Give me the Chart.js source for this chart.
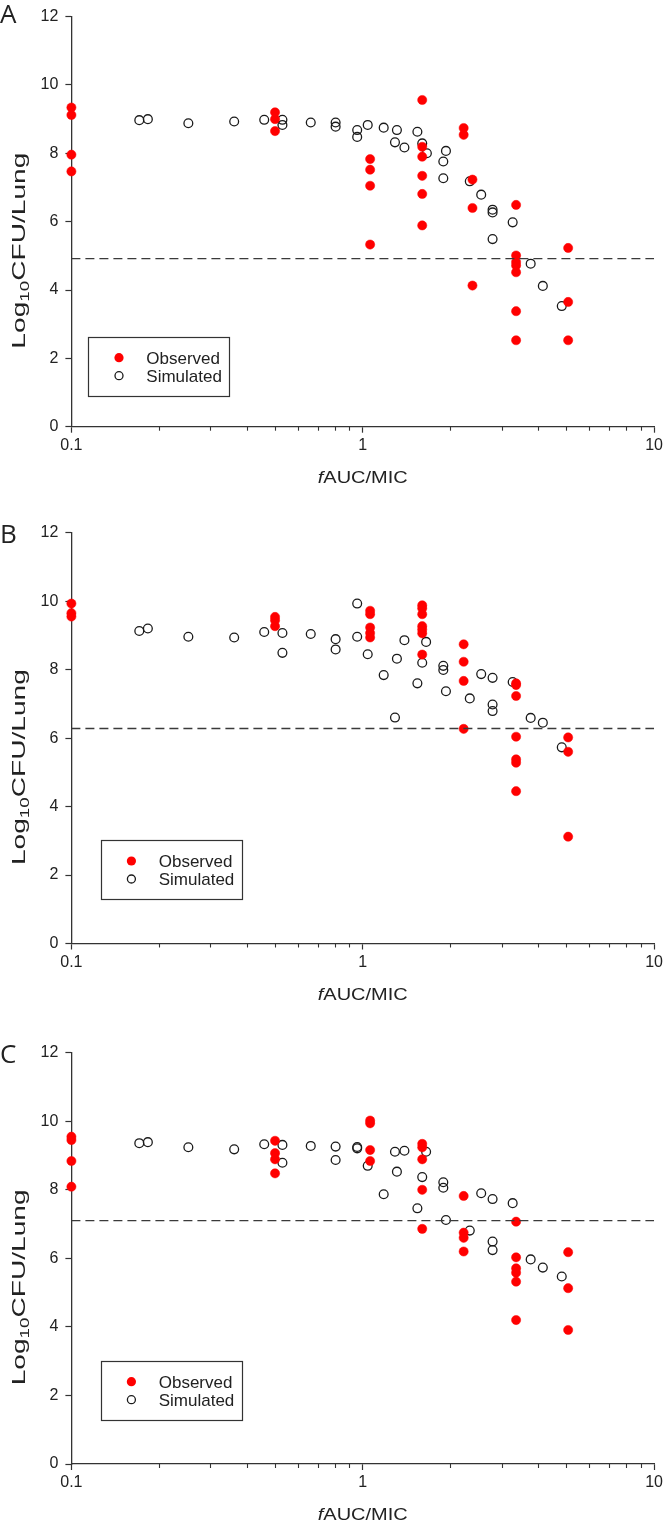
<!DOCTYPE html>
<html>
<head>
<meta charset="utf-8">
<script src="https://cdn.jsdelivr.net/npm/chart.js@4.4.0/dist/chart.umd.min.js"></script>
<style>
  body { margin: 0; background: #fff; }
  #wrap { position: relative; width: 666px; height: 1523px; }
  canvas { position: absolute; left: 0; }
</style>
</head>
<body>
<div id="wrap">
  <canvas id="panelA" width="666" height="500" style="top:0"></canvas>
  <canvas id="panelB" width="666" height="515" style="top:500px"></canvas>
  <canvas id="panelC" width="666" height="508" style="top:1015px"></canvas>
</div>
<script>
// values (x = fAUC/MIC, y = log10 CFU/lung)
const xTickValues = [0.1, 1, 10];
const xMinorDecades = [0.1, 1];
const yTickStep = 2;

// Panel A
const obsAX = [0.1, 0.1, 0.1, 0.1, 0.5, 0.5, 0.5, 1.06, 1.06, 1.06, 1.06, 1.6, 1.6, 1.6, 1.6, 1.6, 1.6, 2.22, 2.22, 2.38, 2.38, 2.38, 3.36, 3.36, 3.36, 3.36, 3.36, 3.36, 3.36, 5.07, 5.07, 5.07];
const obsAY = [9.34, 9.12, 7.96, 7.47, 9.2, 9.0, 8.65, 7.83, 7.52, 7.05, 5.33, 9.56, 8.19, 7.9, 7.34, 6.81, 5.89, 8.74, 8.54, 7.23, 6.4, 4.13, 6.49, 5.01, 4.82, 4.72, 4.52, 3.38, 2.53, 5.23, 3.65, 2.53];
const simAX = [0.171, 0.183, 0.252, 0.362, 0.459, 0.53, 0.53, 0.663, 0.807, 0.807, 0.957, 0.957, 1.04, 1.18, 1.31, 1.29, 1.39, 1.54, 1.6, 1.66, 1.93, 1.89, 1.89, 2.33, 2.55, 2.79, 2.79, 2.79, 3.27, 3.77, 4.15, 4.82];
const simAY = [8.97, 9.0, 8.88, 8.93, 8.98, 8.98, 8.83, 8.9, 8.9, 8.78, 8.68, 8.48, 8.83, 8.75, 8.68, 8.32, 8.17, 8.63, 8.29, 8.0, 8.07, 7.76, 7.27, 7.18, 6.79, 6.35, 6.27, 5.49, 5.98, 4.77, 4.12, 3.53];
const cutoffA = 4.92;

// Panel B
const obsBX = [0.1, 0.1, 0.1, 0.5, 0.5, 0.5, 1.06, 1.06, 1.06, 1.06, 1.06, 1.6, 1.6, 1.6, 1.6, 1.6, 1.6, 1.6, 2.22, 2.22, 2.22, 2.22, 3.36, 3.36, 3.36, 3.36, 3.36, 3.36, 3.36, 5.07, 5.07, 5.07];
const obsBY = [9.93, 9.65, 9.55, 9.54, 9.44, 9.27, 9.72, 9.62, 9.23, 9.07, 8.94, 9.88, 9.79, 9.62, 9.27, 9.17, 9.06, 8.44, 8.74, 8.23, 7.67, 6.27, 7.6, 7.55, 7.23, 6.04, 5.38, 5.28, 4.45, 6.02, 5.6, 3.12];
const simBX = [0.171, 0.183, 0.252, 0.362, 0.459, 0.53, 0.53, 0.663, 0.807, 0.807, 0.957, 0.957, 1.04, 1.18, 1.31, 1.29, 1.39, 1.54, 1.6, 1.65, 1.89, 1.89, 1.93, 2.33, 2.55, 2.79, 2.79, 2.79, 3.27, 3.77, 4.15, 4.82];
const simBY = [9.13, 9.2, 8.96, 8.94, 9.1, 9.07, 8.49, 9.04, 8.89, 8.59, 9.93, 8.96, 8.45, 7.84, 8.32, 6.6, 8.86, 7.6, 8.2, 8.81, 8.11, 7.99, 7.37, 7.16, 7.87, 7.76, 6.98, 6.79, 7.64, 6.59, 6.45, 5.73];
const cutoffB = 6.28;

// Panel C
const obsCX = [0.1, 0.1, 0.1, 0.1, 0.5, 0.5, 0.5, 0.5, 1.06, 1.06, 1.06, 1.06, 1.6, 1.6, 1.6, 1.6, 1.6, 2.22, 2.22, 2.22, 2.22, 3.36, 3.36, 3.36, 3.36, 3.36, 3.36, 5.07, 5.07, 5.07];
const obsCY = [9.55, 9.45, 8.84, 8.09, 9.43, 9.07, 8.89, 8.48, 10.02, 9.94, 9.16, 8.84, 9.34, 9.24, 8.89, 8.0, 6.86, 7.82, 6.75, 6.6, 6.2, 7.07, 6.03, 5.71, 5.58, 5.32, 4.2, 6.18, 5.13, 3.91];
const simCX = [0.171, 0.183, 0.252, 0.362, 0.459, 0.53, 0.53, 0.663, 0.807, 0.807, 0.957, 0.957, 1.04, 1.18, 1.29, 1.39, 1.31, 1.54, 1.6, 1.65, 1.89, 1.89, 1.93, 2.33, 2.55, 2.79, 2.79, 2.79, 3.27, 3.77, 4.15, 4.82];
const simCY = [9.36, 9.39, 9.24, 9.18, 9.33, 9.31, 8.79, 9.28, 9.26, 8.87, 9.25, 9.21, 8.7, 7.87, 9.11, 9.14, 8.53, 7.46, 8.37, 9.11, 8.22, 8.06, 7.12, 6.81, 7.9, 7.73, 6.49, 6.24, 7.61, 5.97, 5.73, 5.47];
const cutoffC = 7.1;

const seriesNames = ["Observed", "Simulated"];

const SANS = "'Liberation Sans', Arial, sans-serif";
const AXIS_COLOR = "#333";
const RED = "#ff0000";

const toPoints = (xs, ys) => xs.map((x, i) => ({ x: x, y: ys[i] }));

// draw a run of text pieces, stretched horizontally to a target width
function drawPieces(ctx, pieces, x, y, targetW, align) {
    let total = 0;
    pieces.forEach(p => { ctx.font = p.font; p.w = ctx.measureText(p.text).width; total += p.w; });
    const sx = targetW ? targetW / total : 1;
    ctx.save();
    ctx.translate(x, y);
    ctx.scale(sx, 1);
    let cx = align === "center" ? -total / 2 : 0;
    pieces.forEach(p => {
        ctx.font = p.font;
        ctx.fillText(p.text, cx, p.dy || 0);
        cx += p.w;
    });
    ctx.restore();
}

/* ==========================
   Decorations: minor ticks, titles, legend, panel letter
========================== */
const panelDecor = {
    id: "panelDecor",
    afterDraw(chart, args, opts) {
        const ctx = chart.ctx;
        const area = chart.chartArea;
        const xs = chart.scales.x;

        // minor log ticks
        ctx.save();
        ctx.strokeStyle = AXIS_COLOR;
        ctx.lineWidth = 1.1;
        xMinorDecades.forEach(d => {
            for (let k = 2; k <= 9; k++) {
                const px = Math.round(xs.getPixelForValue(k * d)) + 0.5;
                ctx.beginPath();
                ctx.moveTo(px, area.bottom);
                ctx.lineTo(px, area.bottom + 4);
                ctx.stroke();
            }
        });
        ctx.restore();

        ctx.save();
        ctx.fillStyle = "#222";
        ctx.textBaseline = "alphabetic";

        // x title
        drawPieces(ctx, [
            { text: "f", font: "italic 17px " + SANS },
            { text: "AUC/MIC", font: "17px " + SANS }
        ], (area.left + area.right) / 2, area.bottom + 56, 90, "center");

        // y title, rotated
        ctx.save();
        ctx.translate(25, (area.top + area.bottom) / 2 + 29);
        ctx.rotate(-Math.PI / 2);
        drawPieces(ctx, [
            { text: "Log", font: "18px " + SANS },
            { text: "10", font: "12px " + SANS, dy: 4 },
            { text: "CFU/Lung", font: "18px " + SANS }
        ], 0, 0, 196, "center");
        ctx.restore();

        // panel letter
        drawPieces(ctx, [{ text: opts.letter, font: "26px 'Open Sans', " + SANS }], 0, opts.letterY, 0, "left");

        // legend box
        const lx = opts.legendX, ly = area.bottom - opts.legendUp;
        ctx.strokeStyle = AXIS_COLOR;
        ctx.lineWidth = 1.2;
        ctx.strokeRect(Math.round(lx) + 0.5, Math.round(ly) + 0.5, 141, 59);

        ctx.fillStyle = RED;
        ctx.beginPath();
        ctx.arc(lx + 30.7, ly + 21, 4.6, 0, Math.PI * 2);
        ctx.fill();
        ctx.strokeStyle = "#1a1a1a";
        ctx.lineWidth = 1.3;
        ctx.beginPath();
        ctx.arc(lx + 30.7, ly + 39, 4, 0, Math.PI * 2);
        ctx.stroke();

        ctx.fillStyle = "#222";
        ctx.font = "17px " + SANS;
        ctx.fillText(seriesNames[0], lx + 58, ly + 27);
        ctx.fillText(seriesNames[1], lx + 58, ly + 45.2);
        ctx.restore();
    }
};

function makePanel(id, obsX, obsY, simX, simY, cutoff, lay) {
    const canvas = document.getElementById(id);
    const H = canvas.height;
    new Chart(canvas, {
        type: "scatter",
        data: {
            datasets: [
                {
                    label: "cutoff",
                    data: [{ x: 0.1, y: cutoff }, { x: 10, y: cutoff }],
                    showLine: true,
                    borderColor: "#3a3a3a",
                    borderWidth: 1.3,
                    borderDash: [9, 5],
                    pointRadius: 0,
                    order: 0
                },
                {
                    label: seriesNames[0],
                    data: toPoints(obsX, obsY),
                    backgroundColor: RED,
                    borderColor: RED,
                    borderWidth: 0.5,
                    pointRadius: 4.6,
                    clip: false,
                    order: 1
                },
                {
                    label: seriesNames[1],
                    data: toPoints(simX, simY),
                    backgroundColor: "rgba(0,0,0,0)",
                    borderColor: "#1a1a1a",
                    borderWidth: 1.3,
                    pointRadius: 4.4,
                    clip: false,
                    order: 2
                }
            ]
        },
        options: {
            responsive: false,
            devicePixelRatio: 1,
            animation: false,
            events: [],
            layout: { padding: { top: lay.plotTop, right: 10, bottom: 0, left: 0 } },
            plugins: {
                legend: { display: false },
                tooltip: { enabled: false },
                panelDecor: lay
            },
            scales: {
                x: {
                    type: "logarithmic",
                    min: 0.1,
                    max: 10,
                    afterBuildTicks: s => { s.ticks = xTickValues.map(v => ({ value: v })); },
                    afterFit: s => { s.height = H - lay.plotBottom; },
                    ticks: {
                        callback: v => String(v),
                        autoSkip: false,
                        maxRotation: 0,
                        padding: 3,
                        color: "#222",
                        font: { family: SANS, size: 16 }
                    },
                    grid: { drawOnChartArea: false, tickLength: 6, tickColor: AXIS_COLOR, tickWidth: 1.2 },
                    border: { color: AXIS_COLOR, width: 1.3 }
                },
                y: {
                    min: 0,
                    max: 12,
                    afterFit: s => { s.width = 71.4; },
                    ticks: {
                        stepSize: yTickStep,
                        padding: 7,
                        color: "#222",
                        font: { family: SANS, size: 16 }
                    },
                    grid: { drawOnChartArea: false, tickLength: 6, tickColor: AXIS_COLOR, tickWidth: 1.2 },
                    border: { color: AXIS_COLOR, width: 1.3 }
                }
            }
        },
        plugins: [panelDecor]
    });
}

makePanel("panelA", obsAX, obsAY, simAX, simAY, cutoffA,
    { letter: "A", letterY: 23, plotTop: 15.5, plotBottom: 426.7, legendX: 88.3, legendUp: 90 });
makePanel("panelB", obsBX, obsBY, simBX, simBY, cutoffB,
    { letter: "B", letterY: 42.5, plotTop: 32.7, plotBottom: 443.5, legendX: 100.7, legendUp: 103.5 });
makePanel("panelC", obsCX, obsCY, simCX, simCY, cutoffC,
    { letter: "C", letterY: 47.5, plotTop: 37.7, plotBottom: 449, legendX: 100.7, legendUp: 103.3 });
</script>
</body>
</html>
